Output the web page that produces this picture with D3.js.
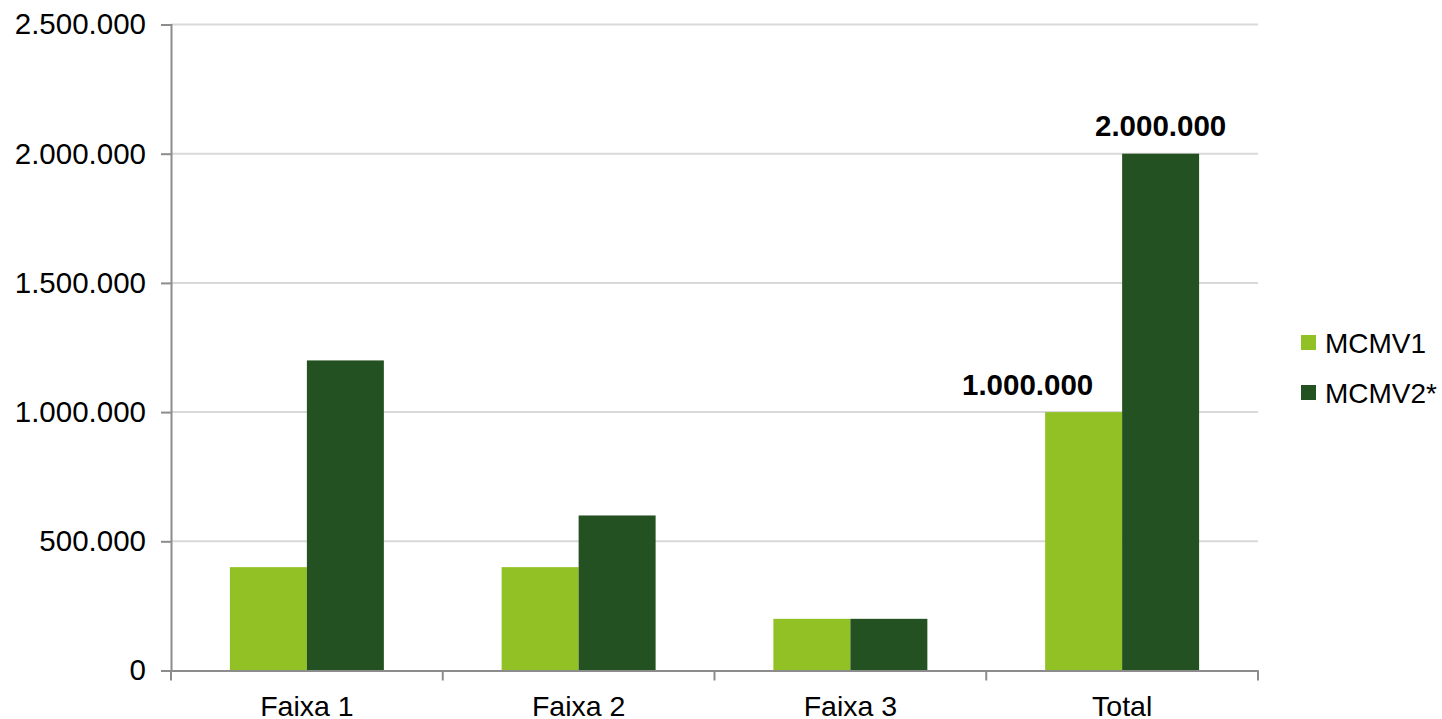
<!DOCTYPE html>
<html>
<head>
<meta charset="utf-8">
<script src="https://cdn.jsdelivr.net/npm/d3@7"></script>
<style>
  html, body { margin: 0; padding: 0; background: #ffffff; }
  svg { display: block; font-family: "Liberation Sans", Arial, sans-serif; }
</style>
</head>
<body>
<svg id="chart" width="1442" height="719"></svg>
<script>
const categories = ["Faixa 1", "Faixa 2", "Faixa 3", "Total"];
const seriesNames = ["MCMV1", "MCMV2*"];
const mcmv1 = [400000, 400000, 200000, 1000000];
const mcmv2 = [1200000, 600000, 200000, 2000000];
const yTicks = [0, 500000, 1000000, 1500000, 2000000, 2500000];
const labeledValues = [{ series: 0, cat: 3 }, { series: 1, cat: 3 }];
const colors = ["#92c125", "#235121"];

const svg = d3.select("#chart");
const margin = { left: 171, right: 184, top: 24.5, bottom: 48.5 };
const W = 1442, H = 719;

const fmt = v => d3.format(",")(v).replace(/,/g, ".");

const x0 = d3.scaleBand().domain(categories).range([margin.left, W - margin.right]).padding(0);
const x1 = d3.scaleBand().domain(seriesNames).range([0, x0.bandwidth()]).paddingInner(0).paddingOuter(0.765);
const y = d3.scaleLinear().domain([0, 2500000]).range([H - margin.bottom, margin.top]);

// gridlines
svg.append("g")
  .selectAll("line")
  .data(yTicks.filter(d => d > 0))
  .join("line")
  .attr("x1", margin.left).attr("x2", W - margin.right)
  .attr("y1", d => y(d)).attr("y2", d => y(d))
  .attr("stroke", "#d9d9d9").attr("stroke-width", 2);

// bars
const data = categories.map((c, i) => ({ cat: c, vals: [mcmv1[i], mcmv2[i]] }));
const groups = svg.append("g").selectAll("g").data(data).join("g")
  .attr("transform", d => `translate(${x0(d.cat)},0)`);
groups.selectAll("rect")
  .data(d => d.vals.map((v, j) => ({ v, s: seriesNames[j], j })))
  .join("rect")
  .attr("x", d => x1(d.s))
  .attr("width", x1.bandwidth())
  .attr("y", d => y(d.v))
  .attr("height", d => y(0) - y(d.v))
  .attr("fill", d => colors[d.j]);

// y axis
const yAxis = d3.axisLeft(y).tickValues(yTicks).tickFormat(fmt).tickSize(10).tickPadding(15);
const gy = svg.append("g").attr("transform", `translate(${margin.left},0)`).call(yAxis);
gy.select(".domain").attr("stroke", "#8c8c8c").attr("stroke-width", 2);
gy.selectAll(".tick line").attr("stroke", "#8c8c8c").attr("stroke-width", 2);
gy.selectAll(".tick text").attr("font-size", 29.5).attr("fill", "#000")
  .attr("font-family", "Liberation Sans, Arial, sans-serif");

// x axis
const xAxis = d3.axisBottom(x0).tickSize(0).tickPadding(0);
const gx = svg.append("g").attr("transform", `translate(0,${y(0)})`).call(xAxis);
gx.select(".domain").attr("stroke", "#8c8c8c").attr("stroke-width", 2);
gx.selectAll(".tick text").attr("font-size", 28.5).attr("fill", "#000")
  .attr("font-family", "Liberation Sans, Arial, sans-serif")
  .attr("dy", null).attr("y", 45);
// category boundary ticks
const bounds = categories.map(c => x0(c)).concat([x0(categories[categories.length - 1]) + x0.bandwidth()]);
gx.selectAll(".bound").data(bounds).join("line").attr("class", "bound")
  .attr("x1", d => d).attr("x2", d => d).attr("y1", 0).attr("y2", 10)
  .attr("stroke", "#8c8c8c").attr("stroke-width", 2);

// data labels
const labelOffsets = [-56, 0];
svg.append("g").selectAll("text").data(labeledValues).join("text")
  .attr("x", d => x0(categories[d.cat]) + x1(seriesNames[d.series]) + x1.bandwidth() / 2 + labelOffsets[d.series])
  .attr("y", d => y(d.series === 0 ? mcmv1[d.cat] : mcmv2[d.cat]) - 17.5)
  .attr("text-anchor", "middle")
  .attr("font-size", 29.5).attr("font-weight", "bold").attr("fill", "#000")
  .text(d => fmt(d.series === 0 ? mcmv1[d.cat] : mcmv2[d.cat]));

// legend
const legend = svg.append("g").attr("transform", "translate(1301,335)");
const li = legend.selectAll("g").data(seriesNames).join("g")
  .attr("transform", (d, i) => `translate(0,${i * 50})`);
li.append("rect").attr("width", 15).attr("height", 15).attr("fill", (d, i) => colors[i]);
li.append("text").attr("x", 24).attr("y", 18).attr("font-size", 28).attr("fill", "#000").text(d => d);
</script>
</body>
</html>
